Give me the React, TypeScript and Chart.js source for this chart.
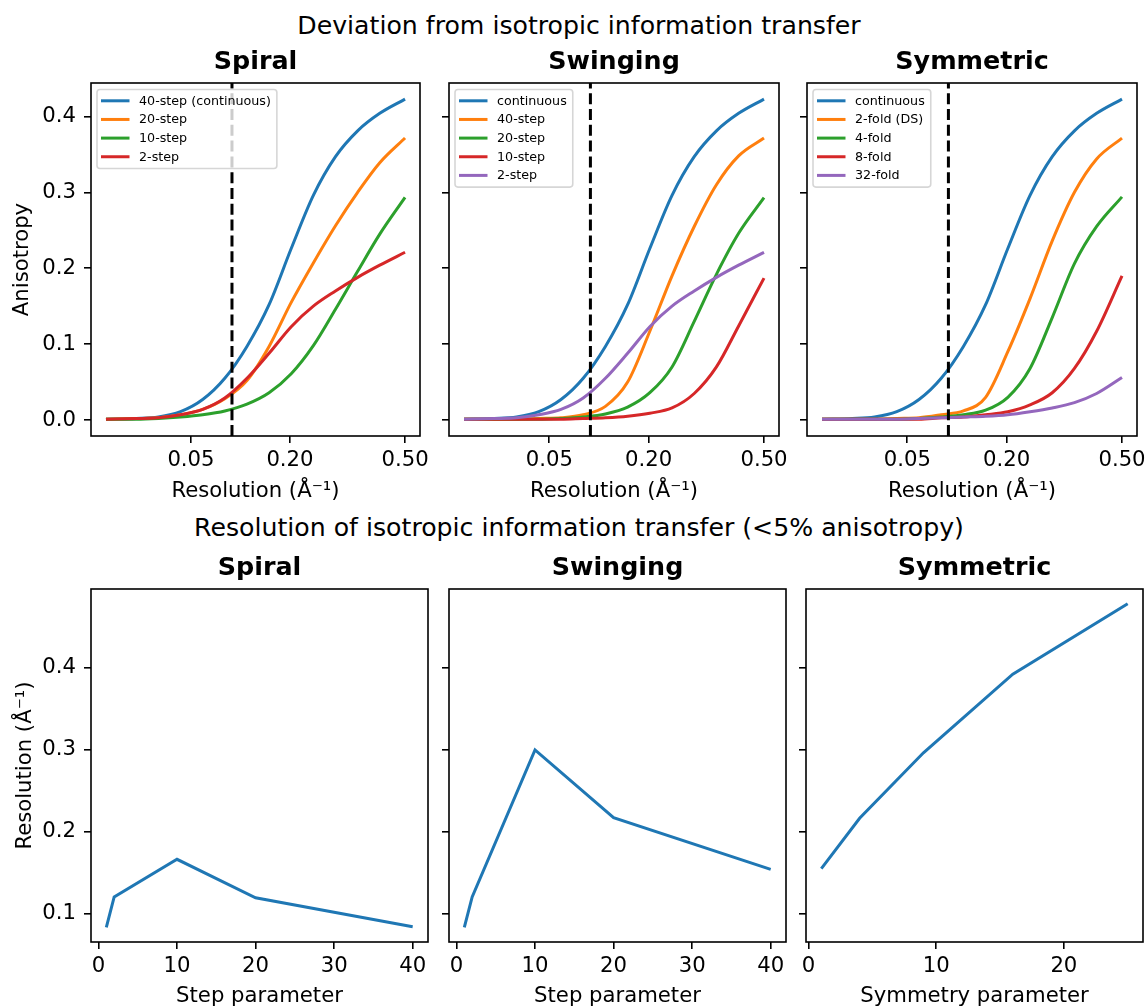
import React, { useEffect, useRef } from 'react';
import { Chart, registerables, LinearScale } from 'chart.js';

Chart.register(...registerables);

// ---------- sqrt-spaced axis (library scale subclass) ----------
const sq = (v: number) => Math.sign(v) * Math.sqrt(Math.abs(v));
class SqrtScale extends LinearScale {
  static id = 'sqrt';
  static defaults = {};
  getPixelForValue(value: number) {
    if (value === null || value === undefined || isNaN(value)) return NaN;
    const a = sq(this.min), b = sq(this.max);
    return this.getPixelForDecimal((sq(value) - a) / (b - a));
  }
  getValueForPixel(pixel: number) {
    const a = sq(this.min), b = sq(this.max);
    const s = a + this.getDecimalForPixel(pixel) * (b - a);
    return Math.sign(s) * s * s;
  }
}
Chart.register(SqrtScale as any);

// ---------- data ----------
const resolution = [0.001, 0.01, 0.0225, 0.04, 0.0625, 0.09, 0.1225, 0.16, 0.2025, 0.25, 0.3025, 0.36, 0.4225, 0.5];
const continuous = [0.001, 0.002, 0.004, 0.011, 0.027, 0.055, 0.097, 0.152, 0.226, 0.296, 0.347, 0.381, 0.404, 0.4228];
const twoStep = [0.001, 0.002, 0.003, 0.007, 0.014, 0.029, 0.055, 0.088, 0.123, 0.15, 0.17, 0.188, 0.204, 0.221];
const spiral20 = [0.001, 0.002, 0.003, 0.007, 0.014, 0.028, 0.052, 0.097, 0.155, 0.207, 0.256, 0.3, 0.339, 0.3716];
const spiral10 = [0.001, 0.001, 0.002, 0.004, 0.007, 0.012, 0.021, 0.036, 0.061, 0.098, 0.146, 0.196, 0.245, 0.2934];
const swing40 = [0.001, 0.001, 0.001, 0.002, 0.003, 0.007, 0.018, 0.05, 0.117, 0.19, 0.255, 0.31, 0.348, 0.3715];
const swing20 = [0.001, 0.001, 0.001, 0.001, 0.002, 0.004, 0.008, 0.017, 0.036, 0.07, 0.13, 0.192, 0.246, 0.293];
const swing10 = [0.001, 0.001, 0.001, 0.001, 0.001, 0.002, 0.003, 0.005, 0.009, 0.016, 0.035, 0.07, 0.124, 0.187];
const sym2 = [0.001, 0.001, 0.001, 0.002, 0.003, 0.007, 0.012, 0.03, 0.09, 0.16, 0.236, 0.3, 0.344, 0.3715];
const sym4 = [0.001, 0.001, 0.001, 0.001, 0.002, 0.004, 0.007, 0.013, 0.03, 0.068, 0.135, 0.206, 0.255, 0.294];
const sym8 = [0.001, 0.001, 0.001, 0.001, 0.001, 0.003, 0.004, 0.007, 0.011, 0.02, 0.036, 0.068, 0.117, 0.19];
const sym32 = [0.001, 0.001, 0.001, 0.001, 0.002, 0.003, 0.004, 0.005, 0.007, 0.011, 0.016, 0.023, 0.035, 0.056];
const isotropyCutoff = 0.1;

const stepParams = [1, 2, 10, 20, 40];
const spiralRes = [0.083, 0.12, 0.166, 0.119, 0.0836];
const swingRes = [0.083, 0.12, 0.2996, 0.2167, 0.1537];
const symParams = [1, 4, 9, 16, 25];
const symRes = [0.1545, 0.216, 0.296, 0.392, 0.478];

const resTickValues = [0.05, 0.2, 0.5];
const resTickLabels = ['0.05', '0.20', '0.50'];
const anisoTickValues = [0, 0.1, 0.2, 0.3, 0.4];
const anisoTickLabels = ['0.0', '0.1', '0.2', '0.3', '0.4'];
const bottomYTickValues = [0.1, 0.2, 0.3, 0.4];
const bottomYTickLabels = ['0.1', '0.2', '0.3', '0.4'];
const stepTickValues = [0, 10, 20, 30, 40];
const symTickValues = [0, 10, 20];

const TOP_Y_MIN = -0.021, TOP_Y_MAX = 0.444;
const RES_MIN = -0.0000048, RES_MAX = 0.5489;
const BOT_Y_MIN = 0.065, BOT_Y_MAX = 0.496;

const C = ['#1f77b4', '#ff7f0e', '#2ca02c', '#d62728', '#9467bd'];
const FONT = 'DejaVu Sans';
const TICK_SIZE = 21.2;
const TITLE_SIZE = 25.4;
const SUP_SIZE = 25.2;

Chart.defaults.font.family = FONT;
Chart.defaults.color = '#000';

// ---------- helpers ----------
function curve(label: string, vals: number[], color: string, i: number) {
  return {
    label,
    data: resolution.map((r, k) => ({ x: r, y: vals[k] })),
    borderColor: color, backgroundColor: color, borderWidth: 3,
    pointRadius: 0, cubicInterpolationMode: 'monotone', fill: false, order: -i,
  };
}
function cutoffLine() {
  return {
    label: 'cutoff', guide: true,
    data: [{ x: isotropyCutoff, y: TOP_Y_MIN }, { x: isotropyCutoff, y: TOP_Y_MAX }],
    borderColor: '#000', borderWidth: 3, borderDash: [11, 4.8], pointRadius: 0, order: -100,
  };
}
function path(xs: number[], ys: number[]) {
  return [{
    label: 'res', guide: true,
    data: xs.map((x, k) => ({ x, y: ys[k] })),
    borderColor: C[0], borderWidth: 3, pointRadius: 0, tension: 0, fill: false,
  }];
}

function decor(showLegend: boolean) {
  return {
    id: 'decor',
    afterDatasetsDraw(chart: any) {
      const { ctx, chartArea: a } = chart;
      ctx.save();
      ctx.strokeStyle = '#000';
      ctx.lineWidth = 1.6;
      ctx.strokeRect(a.left, a.top, a.right - a.left, a.bottom - a.top);
      if (showLegend) {
        const items = chart.data.datasets.filter((d: any) => !d.guide);
        ctx.font = `12.7px "${FONT}"`;
        const maxW = Math.max(...items.map((d: any) => ctx.measureText(d.label).width));
        const bx = a.left + 6, by = a.top + 6.5;
        const lx0 = bx + 4, lineLen = 28.5, tx = lx0 + 38;
        const rowH = 18.65, first = 11.3;
        const bw = tx - bx + maxW + 6;
        const bh = first + (items.length - 1) * rowH + 11.7;
        ctx.beginPath();
        if (ctx.roundRect) ctx.roundRect(bx, by, bw, bh, 3); else ctx.rect(bx, by, bw, bh);
        ctx.fillStyle = 'rgba(255,255,255,0.8)';
        ctx.fill();
        ctx.strokeStyle = 'rgba(204,204,204,0.8)';
        ctx.lineWidth = 1.6;
        ctx.stroke();
        items.forEach((d: any, i: number) => {
          const cy = by + first + i * rowH;
          ctx.beginPath();
          ctx.moveTo(lx0, cy);
          ctx.lineTo(lx0 + lineLen, cy);
          ctx.strokeStyle = d.borderColor;
          ctx.lineWidth = 3;
          ctx.stroke();
          ctx.fillStyle = '#000';
          ctx.textBaseline = 'middle';
          ctx.textAlign = 'left';
          ctx.fillText(d.label, tx, cy + 0.5);
        });
      }
      ctx.restore();
    },
  };
}

type PanelDef = {
  area: [number, number, number, number]; // left, top, right, bottom of plot area
  title: string;
  datasets: any[];
  xType: string; xMin: number; xMax: number; xTicks: number[]; xLabels: string[]; xTitle: string;
  yMin: number; yMax: number; yTicks: number[]; yLabels: string[]; yTitle: string | null;
  showYLabels: boolean; legend: boolean; hx: number; xTitlePad: number; yTitlePad: number;
};

const TITLE_H = 43;
const TITLE_PT = 7.0;
const tickGrid = { display: true, drawOnChartArea: false, drawTicks: true, tickLength: 7, tickWidth: 1.6, tickColor: '#000', lineWidth: 1.6, color: '#000' };

function geometry(p: PanelDef) {
  const [l, t, r, b] = p.area;
  const wy = p.showYLabels ? l : 10;
  const rp = 20;
  return { left: l - wy, top: t - TITLE_H, width: r - l + wy + rp, height: b - t + TITLE_H + p.hx, wy, rp };
}

function Panel({ p }: { p: PanelDef }) {
  const ref = useRef<HTMLCanvasElement>(null);
  const g = geometry(p);
  useEffect(() => {
    const chart = new Chart(ref.current as HTMLCanvasElement, {
      type: 'line',
      data: { datasets: p.datasets },
      options: {
        animation: false, responsive: false, maintainAspectRatio: false, devicePixelRatio: 1,
        layout: { padding: { left: 0, top: 0, bottom: 0, right: g.rp } },
        plugins: {
          legend: { display: false }, tooltip: { enabled: false },
          title: {
            display: true, text: p.title, fullSize: false, color: '#000',
            font: { family: FONT, size: TITLE_SIZE, weight: 'bold', lineHeight: 1.2 },
            padding: { top: TITLE_PT, bottom: TITLE_H - TITLE_SIZE * 1.2 - TITLE_PT },
          },
        },
        scales: {
          x: {
            type: p.xType, min: p.xMin, max: p.xMax,
            afterBuildTicks: (s: any) => { s.ticks = p.xTicks.map((v) => ({ value: v })); },
            afterFit: (s: any) => { s.height = p.hx; s.paddingLeft = 0; s.paddingRight = 0; },
            ticks: {
              autoSkip: false, maxRotation: 0, minRotation: 0, padding: 5.2, color: '#000',
              font: { family: FONT, size: TICK_SIZE, lineHeight: 1.2 },
              callback: (_v: any, i: number) => p.xLabels[i],
            },
            grid: tickGrid, border: { display: false },
            title: {
              display: true, text: p.xTitle, color: '#000',
              font: { family: FONT, size: TICK_SIZE, lineHeight: 1.2 },
              padding: { top: 0, bottom: p.xTitlePad },
            },
          },
          y: {
            type: 'linear', min: p.yMin, max: p.yMax,
            afterBuildTicks: (s: any) => { s.ticks = p.yTicks.map((v) => ({ value: v })); },
            afterFit: (s: any) => { s.width = g.wy; s.paddingTop = 0; s.paddingBottom = 0; },
            ticks: {
              display: p.showYLabels, padding: 8, color: '#000',
              font: { family: FONT, size: TICK_SIZE, lineHeight: 1.2 },
              callback: (_v: any, i: number) => p.yLabels[i],
            },
            grid: tickGrid, border: { display: false },
            title: {
              display: !!p.yTitle, text: p.yTitle || '', color: '#000',
              font: { family: FONT, size: TICK_SIZE, lineHeight: 1.2 },
              padding: { top: p.yTitlePad, bottom: 0 },
            },
          },
        },
      } as any,
      plugins: [decor(p.legend)],
    } as any);
    return () => chart.destroy();
  }, []);
  return (
    <canvas
      ref={ref}
      width={g.width}
      height={g.height}
      style={{ position: 'absolute', left: g.left, top: g.top, width: g.width, height: g.height }}
    />
  );
}

const RES_LABEL = 'Resolution (Å⁻¹)';

const topCommon = {
  xType: 'sqrt', xMin: RES_MIN, xMax: RES_MAX, xTicks: resTickValues, xLabels: resTickLabels, xTitle: RES_LABEL,
  yMin: TOP_Y_MIN, yMax: TOP_Y_MAX, yTicks: anisoTickValues, yLabels: anisoTickLabels,
  legend: true, hx: 72, xTitlePad: 4, yTitlePad: 10,
};
const botCommon = {
  yMin: BOT_Y_MIN, yMax: BOT_Y_MAX, yTicks: bottomYTickValues, yLabels: bottomYTickLabels,
  legend: false, hx: 68, xTitlePad: 1, yTitlePad: 13, xType: 'linear',
};

const panels: PanelDef[] = [
  {
    ...topCommon, area: [91, 83, 420, 436], title: 'Spiral', yTitle: 'Anisotropy', showYLabels: true,
    datasets: [
      curve('40-step (continuous)', continuous, C[0], 0),
      curve('20-step', spiral20, C[1], 1),
      curve('10-step', spiral10, C[2], 2),
      curve('2-step', twoStep, C[3], 3),
      cutoffLine(),
    ],
  } as PanelDef,
  {
    ...topCommon, area: [449, 83, 779, 436], title: 'Swinging', yTitle: null, showYLabels: false,
    datasets: [
      curve('continuous', continuous, C[0], 0),
      curve('40-step', swing40, C[1], 1),
      curve('20-step', swing20, C[2], 2),
      curve('10-step', swing10, C[3], 3),
      curve('2-step', twoStep, C[4], 4),
      cutoffLine(),
    ],
  } as PanelDef,
  {
    ...topCommon, area: [807, 83, 1137, 436], title: 'Symmetric', yTitle: null, showYLabels: false,
    datasets: [
      curve('continuous', continuous, C[0], 0),
      curve('2-fold (DS)', sym2, C[1], 1),
      curve('4-fold', sym4, C[2], 2),
      curve('8-fold', sym8, C[3], 3),
      curve('32-fold', sym32, C[4], 4),
      cutoffLine(),
    ],
  } as PanelDef,
  {
    ...botCommon, area: [91, 589, 428, 942], title: 'Spiral', yTitle: RES_LABEL, showYLabels: true,
    xMin: -0.95, xMax: 41.95, xTicks: stepTickValues, xLabels: stepTickValues.map(String), xTitle: 'Step parameter',
    datasets: path(stepParams, spiralRes),
  } as PanelDef,
  {
    ...botCommon, area: [449, 589, 786, 942], title: 'Swinging', yTitle: null, showYLabels: false,
    xMin: -0.95, xMax: 41.95, xTicks: stepTickValues, xLabels: stepTickValues.map(String), xTitle: 'Step parameter',
    datasets: path(stepParams, swingRes),
  } as PanelDef,
  {
    ...botCommon, area: [806, 589, 1143, 942], title: 'Symmetric', yTitle: null, showYLabels: false,
    xMin: -0.2, xMax: 26.2, xTicks: symTickValues, xLabels: symTickValues.map(String), xTitle: 'Symmetry parameter',
    datasets: path(symParams, symRes),
  } as PanelDef,
];

const rowTitle = (centerY: number): React.CSSProperties => ({
  position: 'absolute', left: 0, top: centerY - 0.48 * SUP_SIZE, width: 1158, textAlign: 'center',
  fontFamily: FONT, fontSize: SUP_SIZE, lineHeight: `${SUP_SIZE}px`, color: '#000', whiteSpace: 'nowrap',
});

export default function App() {
  return (
    <div style={{ position: 'absolute', left: 0, top: 0, width: 1147, height: 1008, overflow: 'hidden', background: '#fff' }}>
      <div style={rowTitle(25)}>Deviation from isotropic information transfer</div>
      <div style={rowTitle(527)}>Resolution of isotropic information transfer (&lt;5% anisotropy)</div>
      {panels.map((p, i) => <Panel key={i} p={p} />)}
    </div>
  );
}
